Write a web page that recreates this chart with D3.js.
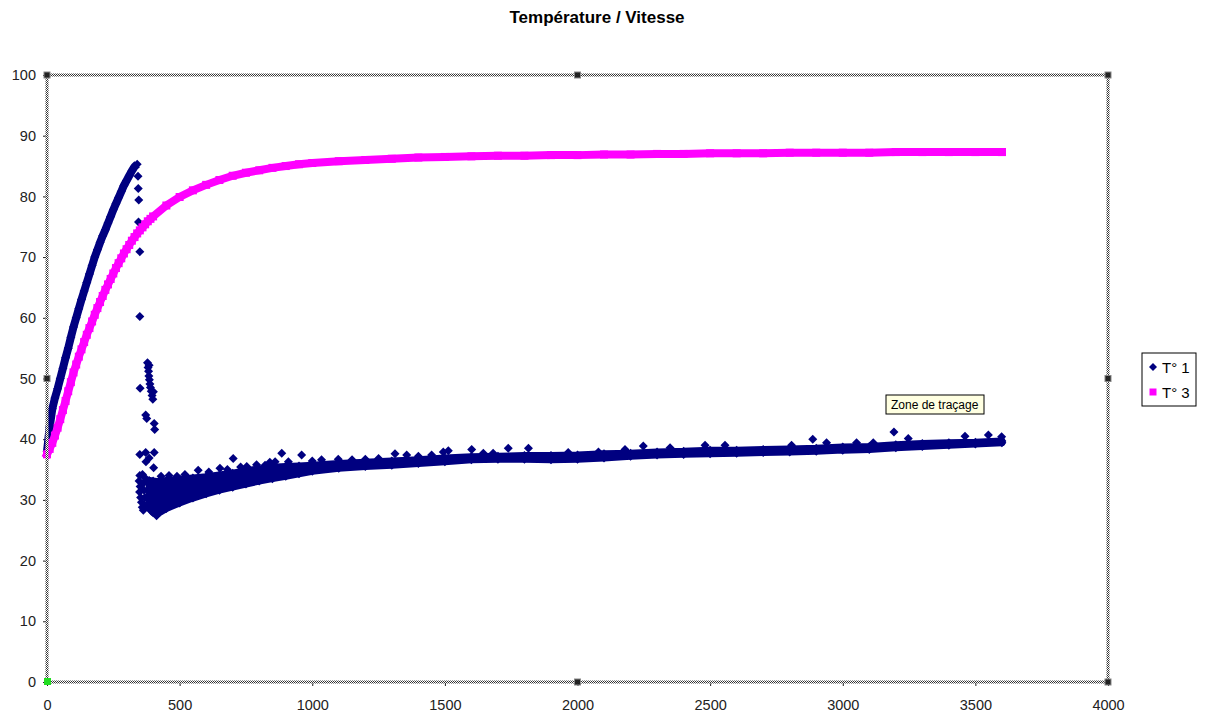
<!DOCTYPE html>
<html>
<head>
<meta charset="utf-8">
<script src="https://cdn.jsdelivr.net/npm/d3@7"></script>
<style>
  body { margin: 0; background: #fff; }
  text { font-family: "Liberation Sans", Arial, sans-serif; }
</style>
</head>
<body>
<svg id="chart" width="1206" height="715"></svg>
<script>
// ---- data (time in s, temperature in °C) ----
var xTicks = [0, 500, 1000, 1500, 2000, 2500, 3000, 3500, 4000];
var yTicks = [0, 10, 20, 30, 40, 50, 60, 70, 80, 90, 100];
var seriesNames = ["T° 1", "T° 3"];

// T° 3 : smooth curve
var t3Time = [0, 10, 20, 30, 40, 50, 60, 70, 80, 90, 100, 110, 120, 130, 140, 150, 160, 170, 180, 190,
  200, 210, 220, 230, 240, 250, 260, 270, 280, 290, 300, 310, 320, 330, 340, 350, 360, 370, 380, 390,
  400, 450, 500, 550, 600, 650, 700, 750, 800, 850, 900, 950, 1000, 1100, 1200, 1300, 1400, 1500,
  1600, 1700, 1800, 1900, 2000, 2100, 2200, 2300, 2400, 2500, 2600, 2700, 2800, 2900, 3000, 3100,
  3200, 3300, 3400, 3500, 3600];
var t3Value = [37.5, 38.4, 39.4, 40.6, 41.9, 43.3, 44.8, 46.3, 47.9, 49.4, 51.0, 52.3, 53.6, 54.8, 56.0,
  57.2, 58.3, 59.4, 60.5, 61.6, 62.6, 63.6, 64.6, 65.5, 66.4, 67.3, 68.2, 69.0, 69.8, 70.6, 71.3, 72.0,
  72.7, 73.3, 73.9, 74.4, 74.9, 75.4, 75.9, 76.3, 76.7, 78.5, 79.9, 81.0, 81.9, 82.7, 83.4, 83.9, 84.3,
  84.7, 85.0, 85.3, 85.5, 85.8, 86.0, 86.2, 86.4, 86.5, 86.6, 86.7, 86.7, 86.8, 86.8, 86.9, 86.9, 87.0,
  87.0, 87.1, 87.1, 87.1, 87.2, 87.2, 87.2, 87.2, 87.3, 87.3, 87.3, 87.3, 87.3];

// T° 1 : heating phase
var t1RiseTime = [0, 10, 20, 30, 40, 50, 60, 70, 80, 90, 100, 110, 120, 130, 140, 150, 160, 170, 180,
  190, 200, 210, 220, 230, 240, 250, 260, 270, 280, 290, 300, 310, 320, 330, 340];
var t1RiseValue = [38.0, 42.0, 45.0, 46.8, 48.3, 50.0, 51.7, 53.4, 55.0, 56.8, 58.5, 60.0, 61.5, 63.0,
  64.4, 65.8, 67.2, 68.6, 70.0, 71.2, 72.4, 73.5, 74.5, 75.6, 76.7, 77.8, 78.8, 79.8, 80.8, 81.8, 82.6,
  83.4, 84.2, 84.9, 85.3];

// T° 1 : settled band (lower and upper envelope of the noisy readings)
var t1BandTime = [385, 400, 420, 450, 500, 550, 600, 650, 700, 750, 800, 850, 900, 950, 1000, 1100,
  1200, 1300, 1400, 1500, 1600, 1700, 1800, 1900, 2000, 2100, 2200, 2300, 2400, 2500, 2600, 2700,
  2800, 2900, 3000, 3100, 3200, 3300, 3400, 3500, 3600];
var t1BandLow = [28.6, 27.9, 27.8, 28.6, 29.5, 30.3, 31.0, 31.6, 32.1, 32.6, 33.1, 33.5, 33.9, 34.3,
  34.7, 35.2, 35.5, 35.7, 36.0, 36.3, 36.6, 36.7, 36.7, 36.6, 36.7, 36.9, 37.2, 37.4, 37.5, 37.6, 37.7,
  37.8, 37.9, 38.0, 38.2, 38.3, 38.6, 38.8, 39.0, 39.2, 39.4];
var t1BandHigh = [33.2, 33.1, 33.0, 33.2, 33.4, 33.6, 33.8, 34.1, 34.4, 34.8, 35.1, 35.4, 35.5, 35.6,
  35.7, 36.0, 36.2, 36.4, 36.6, 36.9, 37.1, 37.2, 37.3, 37.3, 37.4, 37.6, 37.7, 37.9, 38.0, 38.2, 38.2,
  38.3, 38.4, 38.5, 38.7, 38.8, 39.1, 39.3, 39.4, 39.5, 39.7];

// T° 1 : isolated readings (drop after the peak and spikes)
var t1Scatter = [
  [343, 83.3], [344, 81.3], [346, 79.4], [345, 75.8], [350, 70.9], [350, 60.2], [351, 48.4],
  [379, 52.6], [381, 51.8], [383, 51.2], [384, 50.4], [386, 49.8], [388, 49.1], [390, 48.5],
  [393, 47.9], [396, 47.2], [399, 46.6], [401, 47.8], [385, 52.2],
  [372, 44.0], [376, 43.4], [404, 42.6], [406, 41.6], [350, 37.5], [372, 37.8], [404, 37.8],
  [373, 36.3], [385, 36.9], [402, 35.3],
  [350, 34.0], [347, 33.1], [351, 32.2], [349, 31.3], [353, 30.4], [356, 29.6], [359, 28.8],
  [363, 28.3], [367, 29.2], [369, 30.4], [366, 31.6], [364, 32.8], [370, 33.6], [360, 34.2],
  [413, 27.4], [430, 33.9], [460, 34.0], [490, 33.9], [520, 34.2], [610, 34.6], [680, 35.0],
  [730, 35.4], [790, 35.8], [840, 36.2], [910, 36.3], [1000, 36.4], [1150, 36.6], [1200, 36.7],
  [1250, 36.8],
  [570, 34.9], [652, 35.2], [702, 36.8], [753, 35.5], [822, 35.7], [860, 36.3], [885, 37.7],
  [960, 37.4], [1035, 36.6], [1098, 36.7], [1312, 37.6], [1356, 37.4], [1400, 37.2], [1450, 37.4],
  [1494, 37.9], [1513, 38.1], [1601, 38.3], [1645, 37.7], [1682, 37.7], [1739, 38.5], [1815, 38.5],
  [1965, 37.8], [2079, 37.9], [2179, 38.3], [2248, 38.9], [2349, 38.6], [2481, 39.0], [2556, 39.0],
  [2807, 39.0], [2887, 40.0], [2939, 39.4], [3052, 39.4], [3115, 39.4], [3193, 41.2], [3247, 40.1],
  [3461, 40.5], [3549, 40.7], [3599, 40.4]
];

// ---- drawing ----
var svg = d3.select("#chart");
var navy = "#000080", magenta = "#ff00ff";
var diamond = "M0,-4.5L4.5,0L0,4.5L-4.5,0Z";

var x = d3.scaleLinear().domain([0, 4000]).range([47, 1108]);
var y = d3.scaleLinear().domain([0, 100]).range([682, 75]);

// checkered "selected plot area" border pattern
var defs = svg.append("defs");
var pat = defs.append("pattern").attr("id", "hatch")
  .attr("width", 2).attr("height", 2).attr("patternUnits", "userSpaceOnUse");
pat.append("rect").attr("width", 2).attr("height", 2).attr("fill", "#fff");
pat.append("rect").attr("width", 1).attr("height", 1).attr("fill", "#333");
pat.append("rect").attr("x", 1).attr("y", 1).attr("width", 1).attr("height", 1).attr("fill", "#333");

svg.append("text")
  .attr("x", 597).attr("y", 23)
  .attr("text-anchor", "middle")
  .style("font-weight", "bold").style("font-size", "17px")
  .text("Température / Vitesse");

// axes
var yAxis = d3.axisLeft(y).tickValues(yTicks).tickSize(4).tickPadding(7);
var xAxis = d3.axisBottom(x).tickValues(xTicks).tickFormat(d3.format("d"))
  .tickSize(4).tickPadding(14);

var gy = svg.append("g").attr("transform", "translate(" + x(0) + ",0)").call(yAxis);
var gx = svg.append("g").attr("transform", "translate(0," + y(0) + ")").call(xAxis);
[gx, gy].forEach(function(g) {
  g.select(".domain").remove();
  g.selectAll("line").attr("stroke", "#222");
  g.selectAll("text").attr("fill", "#222")
    .style("font-size", "14.5px").style("font-family", "'Liberation Sans', Arial, sans-serif");
});

// T° 1 heating phase
var riseData = t1RiseTime.map(function(t, i) { return [t, t1RiseValue[i]]; });
svg.append("path")
  .datum(riseData)
  .attr("fill", "none").attr("stroke", navy).attr("stroke-width", 8)
  .attr("stroke-linejoin", "round")
  .attr("d", d3.line().x(function(d) { return x(d[0]); }).y(function(d) { return y(d[1]); }));
svg.append("g").selectAll("path")
  .data(riseData).enter().append("path")
  .attr("d", diamond).attr("fill", navy)
  .attr("transform", function(d) { return "translate(" + x(d[0]) + "," + y(d[1]) + ")"; });

// T° 1 settled band
var band = t1BandTime.map(function(t, i) { return { t: t, lo: t1BandLow[i], hi: t1BandHigh[i] }; });
svg.append("path")
  .datum(band)
  .attr("fill", navy).attr("stroke", navy).attr("stroke-width", 7)
  .attr("stroke-linejoin", "round")
  .attr("d", d3.area()
    .x(function(d) { return x(d.t); })
    .y0(function(d) { return y(d.lo); })
    .y1(function(d) { return y(d.hi); }));
var edgePts = [];
band.forEach(function(d) { edgePts.push([d.t, d.lo]); edgePts.push([d.t, d.hi]); });
svg.append("g").selectAll("path")
  .data(edgePts.concat(t1Scatter)).enter().append("path")
  .attr("d", diamond).attr("fill", navy)
  .attr("transform", function(d) { return "translate(" + x(d[0]) + "," + y(d[1]) + ")"; });

// T° 3
var t3Data = t3Time.map(function(t, i) { return [t, t3Value[i]]; });
svg.append("path")
  .datum(t3Data)
  .attr("fill", "none").attr("stroke", magenta).attr("stroke-width", 8)
  .attr("stroke-linecap", "square")
  .attr("d", d3.line().x(function(d) { return x(d[0]); }).y(function(d) { return y(d[1]); }));
svg.append("g").selectAll("rect")
  .data(t3Data).enter().append("rect")
  .attr("x", function(d) { return x(d[0]) - 4; })
  .attr("y", function(d) { return y(d[1]) - 4; })
  .attr("width", 8).attr("height", 8).attr("fill", magenta);

// plot area border (selected) with handles
svg.append("rect")
  .attr("x", x(0)).attr("y", y(100))
  .attr("width", x(4000) - x(0)).attr("height", y(0) - y(100))
  .attr("fill", "none").attr("stroke", "url(#hatch)").attr("stroke-width", 3);
var handles = [[0, 100], [2000, 100], [4000, 100], [0, 50], [4000, 50], [2000, 0], [4000, 0]];
svg.append("g").selectAll("rect")
  .data(handles).enter().append("rect")
  .attr("x", function(d) { return x(d[0]) - 3; })
  .attr("y", function(d) { return y(d[1]) - 3; })
  .attr("width", 6).attr("height", 6)
  .attr("fill", "#222").attr("stroke", "#888").attr("stroke-width", 1);
svg.append("rect")
  .attr("x", x(0) - 3).attr("y", y(0) - 4).attr("width", 7).attr("height", 7)
  .attr("fill", "#22dd22");

// legend
var lg = svg.append("g").attr("transform", "translate(1142,353)");
lg.append("rect").attr("width", 54).attr("height", 53)
  .attr("fill", "#fff").attr("stroke", "#000").attr("stroke-width", 1);
var items = lg.selectAll("g.item").data(seriesNames).enter().append("g")
  .attr("transform", function(d, i) { return "translate(0," + (14 + i * 25) + ")"; });
items.append("path")
  .attr("d", function(d, i) { return i === 0 ? "M0,-4L4,0L0,4L-4,0Z" : "M-3.5,-3.5H3.5V3.5H-3.5Z"; })
  .attr("transform", "translate(11,0)")
  .attr("fill", function(d, i) { return i === 0 ? navy : magenta; });
items.append("text")
  .attr("x", 20).attr("y", 6)
  .style("font-size", "15px").attr("fill", "#000")
  .text(function(d) { return d; });

// tooltip
var tip = svg.append("g").attr("transform", "translate(886,395)");
tip.append("rect").attr("width", 98).attr("height", 19)
  .attr("fill", "#ffffe1").attr("stroke", "#000").attr("stroke-width", 1);
tip.append("text").attr("x", 5).attr("y", 14)
  .style("font-size", "12px").attr("fill", "#000")
  .text("Zone de traçage");
</script>
</body>
</html>
